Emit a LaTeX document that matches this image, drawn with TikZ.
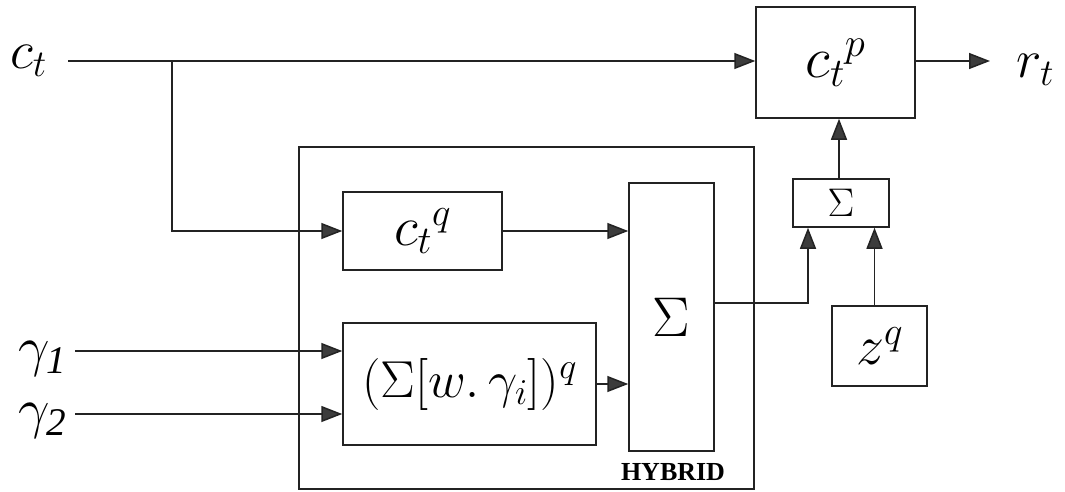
\RequirePackage{fix-cm}
\documentclass[tikz,border=0pt]{standalone}
\usepackage{amsmath}
\usepackage{fontspec}
\setmainfont{Liberation Serif}
\usetikzlibrary{arrows.meta}
\definecolor{linegray}{RGB}{35,35,35}
\definecolor{tipgray}{RGB}{60,60,60}
\tikzset{
  box/.style={draw=linegray, line width=1.5pt, rectangle, inner sep=0pt},
  arr/.style={draw=linegray, line width=1.5pt, -{Triangle[length=21pt,width=16pt,fill=tipgray]}},
  lab/.style={inner sep=0pt, anchor=base west},
}
\begin{document}
\begin{tikzpicture}[x=1pt,y=-1pt]
\useasboundingbox (0,0) rectangle (1065,491);
% boxes
\node[box, minimum width=455pt, minimum height=342pt] (hyb) at (526.5,318) {};
\node[box, minimum width=159pt, minimum height=111pt, font=\fontsize{58}{62}\selectfont] (cp) at (835.5,62.5) {$c_t{}^p$};
\node[box, minimum width=96pt, minimum height=48pt, font=\fontsize{40}{44}\selectfont] (sm) at (841,203) {$\Sigma$};
\node[box, minimum width=95pt, minimum height=80pt, font=\fontsize{56}{60}\selectfont] (zq) at (879.5,346) {$z^q$};
\node[box, minimum width=159pt, minimum height=78pt, font=\fontsize{56}{60}\selectfont] (ctq) at (422.5,231) {$c_t{}^q$};
\node[box, minimum width=253pt, minimum height=122pt, font=\fontsize{52}{60}\selectfont] (gb) at (469.5,384) {$(\Sigma[w.\,\gamma_i])^q$};
\node[box, minimum width=85pt, minimum height=268pt, font=\fontsize{56}{60}\selectfont] (bs) at (671.5,317) {$\Sigma$};
\node[inner sep=0pt, font=\fontsize{26}{28}\selectfont\bfseries] (hl) at (673,472) {HYBRID};
% labels
\node[lab, font=\fontsize{54}{60}\selectfont] (ct) at (10,68) {$c_t$};
\node[lab, font=\fontsize{56}{60}\selectfont] (g1) at (18,365) {$\gamma_{\mathit{1}}$};
\node[lab, font=\fontsize{56}{60}\selectfont] (g2) at (18,427) {$\gamma_{\mathit{2}}$};
\node[lab, font=\fontsize{54}{60}\selectfont] (rt) at (1016,77) {$r_t$};
% coordinates
\coordinate (cs) at (68,61);
\coordinate (br) at (172,61);
\coordinate (g1s) at (75,351);
\coordinate (g2s) at (75,414);
\coordinate (rend) at (990,61);
% connectors
\draw[arr] (cs) -- (cs -| cp.west);
\draw[arr] (br) |- (ctq.west);
\draw[arr] (g1s) -- (g1s -| gb.west);
\draw[arr] (g2s) -- (g2s -| gb.west);
\draw[arr] (ctq.east) -- (ctq.east -| bs.west);
\draw[arr] (gb.east) -- (gb.east -| bs.west);
\draw[arr] ([yshift=14pt]bs.east) -| ([xshift=-33pt]sm.south);
\draw[arr] ([xshift=-5pt]zq.north) -- ([xshift=-5pt]zq.north |- sm.south);
\draw[arr] ([xshift=-2pt]sm.north) -- ([xshift=-2pt]sm.north |- cp.south);
\draw[arr] (cp.east |- rend) -- (rend);
\end{tikzpicture}
\end{document}
